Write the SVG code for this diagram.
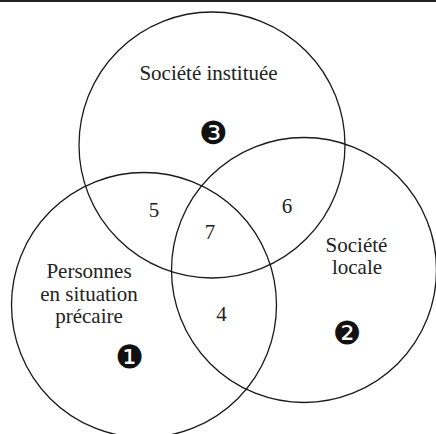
<svg xmlns="http://www.w3.org/2000/svg" width="436" height="434" viewBox="0 0 436 434">
<style>
.c{fill:none;stroke:#1a1a1a;stroke-width:1.3}
.t{font-family:"Liberation Serif","Times New Roman",serif;font-size:21px;fill:#222;text-anchor:middle}
.n{font-family:"DejaVu Sans",sans-serif;font-size:32px;fill:#111;text-anchor:middle}
</style>
<rect x="0" y="0" width="436" height="434" fill="#fff"/>
<line x1="0" y1="1" x2="436" y2="1" stroke="#222" stroke-width="2"/>
<g id="connectors"></g>
<g id="societe-instituee">
<circle class="c" cx="212" cy="145" r="133"/>
<text class="t" x="208.5" y="80">Société instituée</text>
<text class="n" x="213" y="143.5">❸</text>
</g>
<g id="personnes">
<circle class="c" cx="144" cy="305" r="132.5"/>
<text class="t" x="89" y="278">Personnes</text>
<text class="t" x="89" y="300.5">en situation</text>
<text class="t" x="89" y="323">précaire</text>
<text class="n" x="129.5" y="367.5">❶</text>
</g>
<g id="societe-locale">
<circle class="c" cx="304" cy="270" r="132.5"/>
<text class="t" x="356.5" y="251.5">Société</text>
<text class="t" x="357" y="274">locale</text>
<text class="n" x="347" y="344">❷</text>
</g>
<g id="intersections">
<text class="t" x="154" y="217">5</text>
<text class="t" x="287" y="213">6</text>
<text class="t" x="210" y="239">7</text>
<text class="t" x="221.5" y="321">4</text>
</g>
</svg>
